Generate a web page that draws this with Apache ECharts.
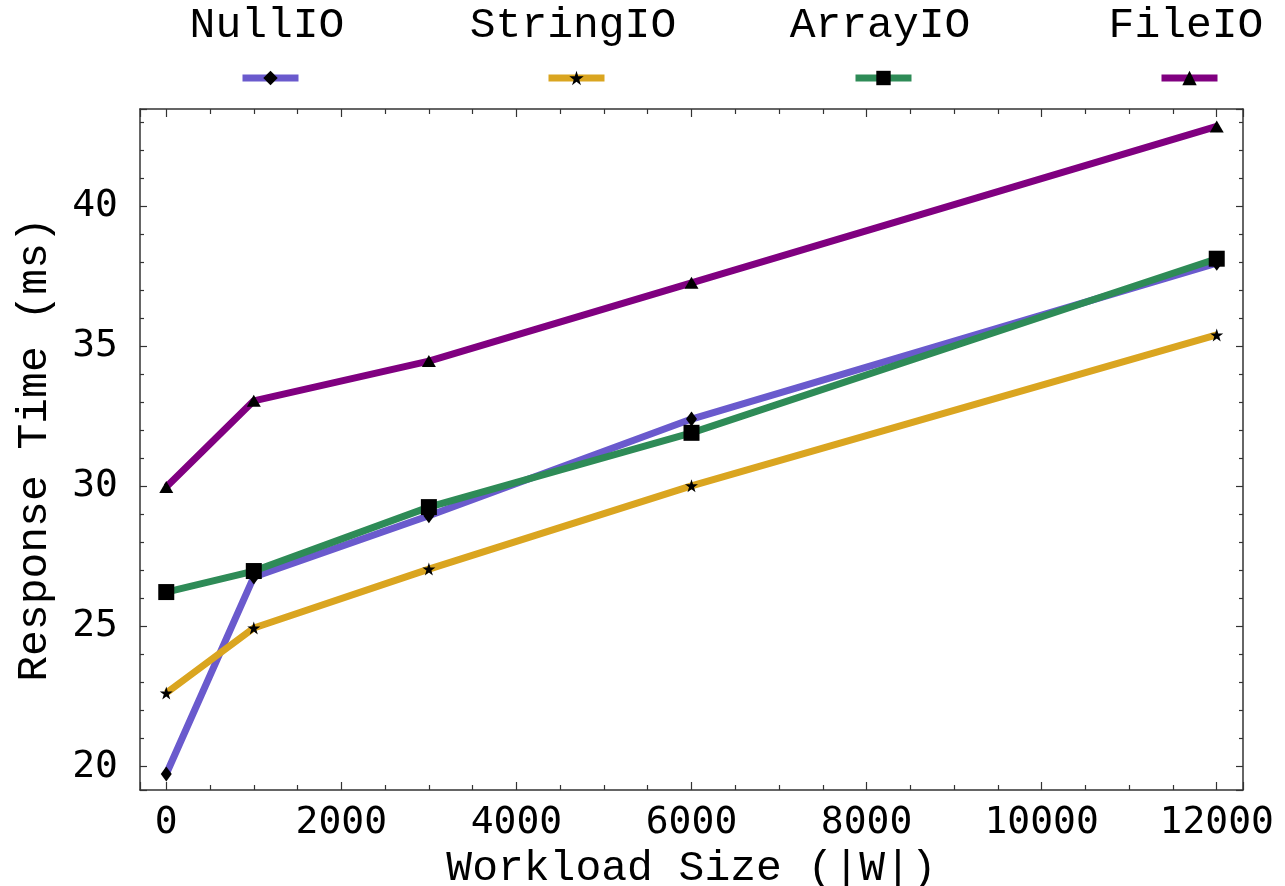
<!DOCTYPE html>
<html>
<head>
<meta charset="utf-8">
<title>Response Time vs Workload Size</title>
<script src="https://cdn.jsdelivr.net/npm/echarts@6/dist/echarts.min.js"></script>
<style>
  html, body { margin: 0; padding: 0; background: #fff; }
  #chart { width: 1285px; height: 886px; }
</style>
</head>
<body>
<div id="chart"></div>
<script>
// workload sizes |W| (x values)
const workloads = [0, 1000, 3000, 6000, 12000];
// response time in ms for each IO backend
const nullIO = [19.74, 26.77, 28.95, 32.4, 37.96];
const stringIO = [22.63, 24.95, 27.05, 30.02, 35.4];
const arrayIO = [26.23, 26.98, 29.26, 31.91, 38.12];
const fileIO = [29.98, 33.05, 34.47, 37.26, 42.84];
const seriesNames = ['NullIO', 'StringIO', 'ArrayIO', 'FileIO'];
const seriesValues = [nullIO, stringIO, arrayIO, fileIO];

// look of each line
const lineColors = ['#6a5acd', '#daa520', '#2e8b57', '#800080'];
const starPath = 'path://M12,0 L14.8,8.6 L23.8,8.6 L16.5,13.9 L19.3,22.5 L12,17.2 L4.7,22.5 L7.5,13.9 L0.2,8.6 L9.2,8.6 Z';
const markers = ['diamond', starPath, 'rect', 'triangle'];
const markerSizes = [[11, 15], 13, 16, [14, 12]];
const legendCenters = [267, 573, 880, 1186];

const monoSerif = '"Courier New", "Nimbus Mono PS", "Liberation Mono", monospace';
const monoSans = '"DejaVu Sans Mono", monospace';

const myChart = echarts.init(document.getElementById('chart'));

// frame axis helper (bottom/top, left/right all share the same look)
function frameAxis(extra) {
  return Object.assign({
    type: 'value',
    axisLine: { show: true, onZero: false, lineStyle: { color: '#333', width: 1.5 } },
    axisTick: { show: true, inside: true, length: 8, lineStyle: { color: '#333', width: 1.2 } },
    minorTick: { show: true, length: 5, lineStyle: { color: '#333', width: 1.2 } },
    splitLine: { show: false },
    minorSplitLine: { show: false }
  }, extra);
}

const option = {
  animation: false,
  backgroundColor: '#fff',
  grid: { left: 140, right: 42, top: 109, bottom: 96, containLabel: false, outerBoundsMode: 'none' },
  xAxis: [
    frameAxis({
      position: 'bottom', min: -300, max: 12300, splitNumber: 6,
      minorTick: { show: true, splitNumber: 4, length: 5, lineStyle: { color: '#333', width: 1.2 } },
      axisLabel: {
        showMinLabel: false, showMaxLabel: false, margin: 14,
        fontFamily: monoSans, fontSize: 38, color: '#000',
        formatter: v => String(v)
      },
      name: 'Workload Size (|W|)', nameLocation: 'middle', nameGap: 50,
      nameTextStyle: { fontFamily: monoSerif, fontSize: 43, color: '#000' }
    }),
    frameAxis({
      position: 'top', min: -300, max: 12300, splitNumber: 6,
      minorTick: { show: true, splitNumber: 4, length: 5, lineStyle: { color: '#333', width: 1.2 } },
      axisLabel: { show: false }
    })
  ],
  yAxis: [
    frameAxis({
      position: 'left', min: 19.17, max: 43.46, splitNumber: 5,
      axisTick: { show: true, inside: true, length: 7, lineStyle: { color: '#333', width: 1.2 } },
      minorTick: { show: true, splitNumber: 5, length: 4, lineStyle: { color: '#333', width: 1.2 } },
      axisLabel: {
        showMinLabel: false, showMaxLabel: false, margin: 22,
        fontFamily: monoSans, fontSize: 38, color: '#000'
      },
      name: 'Response Time (ms)', nameLocation: 'middle', nameGap: 84,
      nameTextStyle: { fontFamily: monoSerif, fontSize: 43, color: '#000' }
    }),
    frameAxis({
      position: 'right', min: 19.17, max: 43.46, splitNumber: 5,
      axisTick: { show: true, inside: true, length: 7, lineStyle: { color: '#333', width: 1.2 } },
      minorTick: { show: true, splitNumber: 5, length: 4, lineStyle: { color: '#333', width: 1.2 } },
      axisLabel: { show: false }
    })
  ],
  // one legend per series so each icon sits under its own name
  legend: seriesNames.map((name, i) => ({
    data: [name],
    left: legendCenters[i] - 28,
    top: 69,
    padding: 0,
    itemWidth: 56,
    itemHeight: 18,
    selectedMode: false,
    formatter: () => '',
    lineStyle: { width: 7 }
  })),
  // legend names above the icons
  graphic: seriesNames.map((name, i) => ({
    type: 'text',
    x: legendCenters[i],
    y: 26,
    style: {
      text: name,
      font: '43px ' + monoSerif,
      fill: '#000',
      align: 'center',
      verticalAlign: 'middle'
    }
  })),
  series: seriesNames.map((name, i) => ({
    name: name,
    type: 'line',
    xAxisIndex: 0,
    yAxisIndex: 0,
    data: workloads.map((w, j) => [w, seriesValues[i][j]]),
    symbol: markers[i],
    symbolSize: markerSizes[i],
    showSymbol: true,
    lineStyle: { color: lineColors[i], width: 7 },
    itemStyle: { color: '#000' },
    emphasis: { disabled: true }
  }))
};

myChart.setOption(option);
window.addEventListener('resize', myChart.resize);
</script>
</body>
</html>
